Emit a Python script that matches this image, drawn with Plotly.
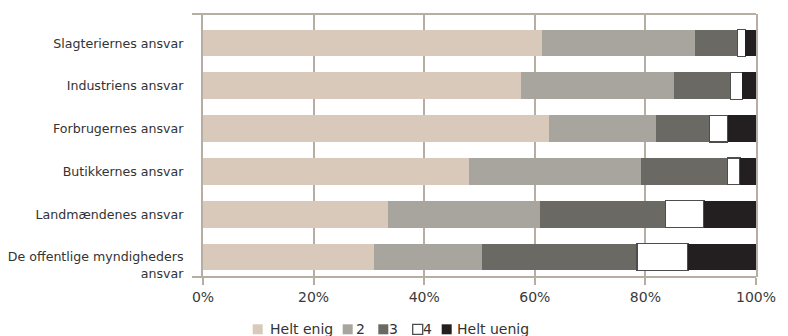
import plotly.graph_objects as go

# Survey responses: share of answers per level (percent), rows top to bottom
categories = [
    "Slagteriernes ansvar",
    "Industriens ansvar",
    "Forbrugernes ansvar",
    "Butikkernes ansvar",
    "Landmændenes ansvar",
    "De offentlige myndigheders ansvar",
]
tick_text = [
    "Slagteriernes ansvar",
    "Industriens ansvar",
    "Forbrugernes ansvar",
    "Butikkernes ansvar",
    "Landmændenes ansvar",
    "<br>De offentlige myndigheders<br>ansvar",
]
helt_enig = [61.3, 57.5, 62.6, 48.1, 33.4, 30.9]
level_2 = [27.6, 27.6, 19.3, 31.1, 27.5, 19.6]
level_3 = [7.7, 10.3, 9.7, 15.7, 22.7, 28.0]
level_4 = [1.5, 2.1, 3.3, 2.2, 7.0, 9.2]
helt_uenig = [1.9, 2.5, 5.1, 2.9, 9.4, 12.3]

series_names = ["Helt enig", "2", "3", "4", "Helt uenig"]
x_ticks = [0, 20, 40, 60, 80, 100]
x_tick_text = ["0%", "20%", "40%", "60%", "80%", "100%"]

colors = ["#D9C9BA", "#A8A59E", "#6A6964", "#FFFFFF", "#231F20"]
outline = ["rgba(0,0,0,0)", "rgba(0,0,0,0)", "rgba(0,0,0,0)", "#4D4D4D", "rgba(0,0,0,0)"]
outline_w = [0, 0, 0, 1.3, 0]
grid_col = "#B7ADA3"
text_col = "#333333"
FONT = "DejaVu Sans"

W, H = 788, 336
ML, MR, MT, MB = 203, 32, 14, 59
PW, PH = W - ML - MR, H - MT - MB


def px_x(px):
    return (px - ML) / PW


def px_y(py):
    return (H - MB - py) / PH


fig = go.Figure()
for name, vals, col, lc, lw in zip(series_names,
                                   [helt_enig, level_2, level_3, level_4, helt_uenig],
                                   colors, outline, outline_w):
    fig.add_trace(go.Bar(
        y=categories, x=vals, name=name, orientation="h",
        marker=dict(color=col, line=dict(color=lc, width=lw)),
        showlegend=False,
    ))

fig.update_layout(
    width=W, height=H,
    margin=dict(l=ML, r=MR, t=MT, b=MB, autoexpand=False),
    barmode="stack", bargap=0.375,
    plot_bgcolor="white", paper_bgcolor="white",
    font=dict(family=FONT, color=text_col),
)
fig.update_xaxes(
    range=[0, 100], tickvals=x_ticks, ticktext=x_tick_text,
    showgrid=True, gridcolor=grid_col, gridwidth=2,
    zeroline=False, showline=False, automargin=False,
    ticks="outside", ticklen=7, tickwidth=2, tickcolor=grid_col,
    tickfont=dict(size=14, color="#3A3A3A", family=FONT),
    fixedrange=True,
)
fig.update_yaxes(
    type="category", categoryorder="array", categoryarray=categories[::-1],
    tickvals=categories, ticktext=tick_text,
    range=[-0.47, 5.68], automargin=False,
    showgrid=False, zeroline=False,
    showline=True, mirror=True, linecolor=grid_col, linewidth=2,
    ticks="", ticklabelstandoff=15,
    tickfont=dict(size=12.6, color=text_col, family=FONT),
)

# top and bottom frame lines reaching a little past the left axis
for yy in (1, 0):
    fig.add_shape(type="line", xref="paper", yref="paper",
                  x0=px_x(192), x1=1, y0=yy, y1=yy,
                  line=dict(color=grid_col, width=2))

# legend row
legend_items = [
    ("Helt enig", 252.7, 270.7),
    ("2", 342.7, 357.3),
    ("3", 378.3, 390.0),
    ("4", 412.7, 424.0),
    ("Helt uenig", 441.7, 458.3),
]
sw_top, sw_bot = 324.3, 334.3
for (label, sx, tx), col, lc, lw in zip(legend_items, colors, outline, outline_w):
    fig.add_shape(type="rect", xref="paper", yref="paper",
                  x0=px_x(sx), x1=px_x(sx + 10), y0=px_y(sw_bot), y1=px_y(sw_top),
                  fillcolor=col, line=dict(color=lc if lw else col, width=lw if lw else 0))
    fig.add_annotation(text=label, xref="paper", yref="paper",
                       x=px_x(tx - 3), y=px_y((sw_top + sw_bot) / 2),
                       xanchor="left", yanchor="middle", showarrow=False,
                       font=dict(size=14, color=text_col, family=FONT))

fig.write_html("out.html")
